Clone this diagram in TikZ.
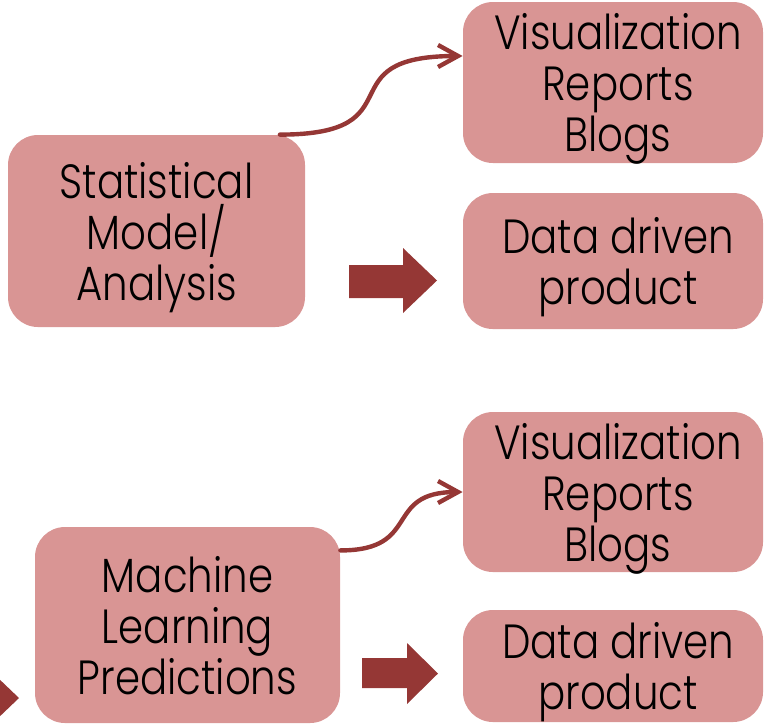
\documentclass[tikz,border=0pt]{standalone}
\usepackage{fontspec}
\setmainfont{Poppins Light}[FakeStretch=0.84]
\usetikzlibrary{arrows.meta}
\definecolor{boxpink}{HTML}{D99594}
\definecolor{darkred}{HTML}{953735}
\begin{document}
\begin{tikzpicture}[x=0.5pt,y=-0.5pt,
  box/.style={fill=boxpink,rounded corners=15pt,align=center,inner sep=0pt,text depth=0pt,
    font=\fontsize{24}{25.5}\selectfont},
  link/.style={darkred,line width=2.2pt,line cap=round,-{Straight Barb[length=10pt,width=11pt]}}]
  \useasboundingbox (0,0) rectangle (765,725);
  \clip (0,0) rectangle (765,725);

  %upper row
  \node[box,minimum width=148.5pt,minimum height=96pt] (stat) at (156.5,231) {Statistical\\Model/\\Analysis};
  \node[box,minimum width=150pt,minimum height=80.5pt] (vistop) at (613,82.5) {\hspace*{5pt}Visualization\\\hspace*{5pt}Reports\\\hspace*{5pt}Blogs};
  \node[box,minimum width=150pt,minimum height=68pt] (datatop) at (613,261) {\hspace*{5pt}Data driven\\\hspace*{5pt}product};

  %lower row
  \node[box,minimum width=152.5pt,minimum height=98pt] (ml) at (187.5,625) {Machine\\Learning\\Predictions};
  \node[box,minimum width=150pt,minimum height=80pt] (visbot) at (613,492) {\hspace*{5pt}Visualization\\\hspace*{5pt}Reports\\\hspace*{5pt}Blogs};
  \node[box,minimum width=150pt,minimum height=56pt] (databot) at (613,666) {\hspace*{5pt}Data driven\\\hspace*{5pt}product};

  %curved arrows
  \draw[link] (stat.38) .. controls +(140,0) and +(-140,0) .. (vistop.170);
  \draw[link] (ml.26.5) .. controls +(82,0) and +(-80,0) .. (visbot.west);

  %block arrows
  \fill[darkred] (349,265) -- (403,265) -- (403,248) -- (437,280.5) -- (403,313) -- (403,298) -- (349,298) -- cycle;
  \fill[darkred] (362,658) -- (407,658) -- (407,643) -- (438,673.5) -- (407,704) -- (407,688) -- (362,688) -- cycle;
  \fill[darkred] (-60,682) -- (-15,682) -- (-15,665.5) -- (19,698) -- (-15,730.5) -- (-15,714) -- (-60,714) -- cycle;
\end{tikzpicture}
\end{document}
